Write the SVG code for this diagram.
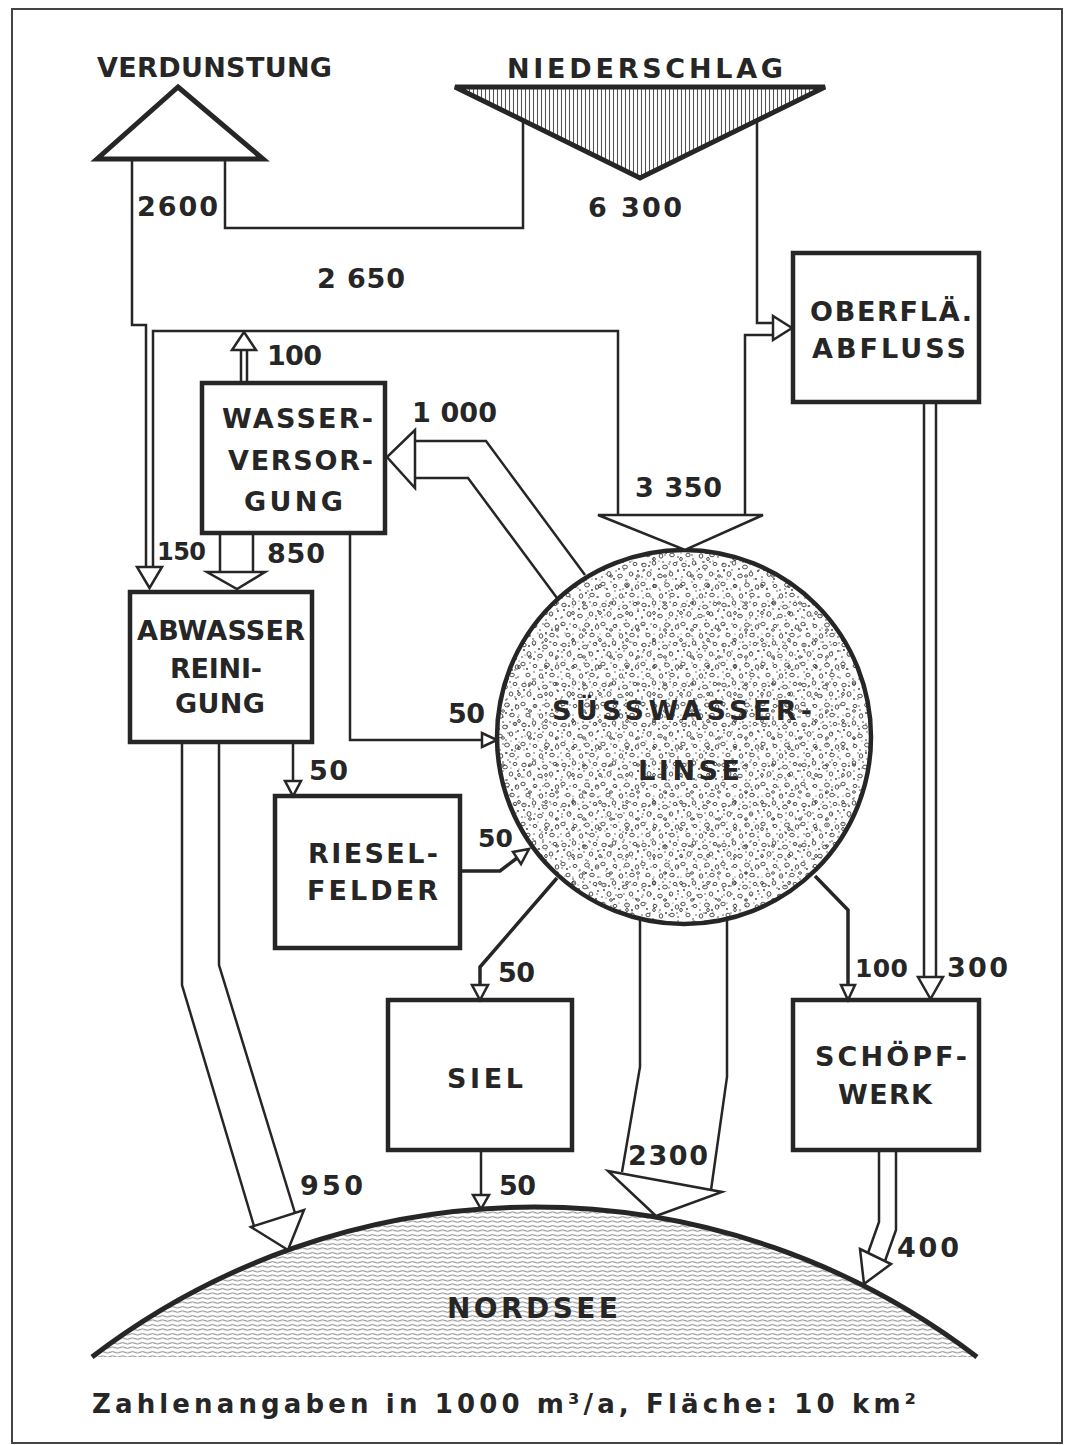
<svg xmlns="http://www.w3.org/2000/svg" width="1065" height="1445" viewBox="0 0 1065 1445">
<defs>
<style>
.t{font-family:"DejaVu Sans","Liberation Sans",Arial,sans-serif;font-weight:bold;font-size:27px;fill:#262626}
.box{fill:#fff;stroke:#262626;stroke-width:4.5}
.ln{fill:none;stroke:#262626;stroke-width:2.5;stroke-linejoin:miter}
.lnb{fill:none;stroke:#262626;stroke-width:3.5}
.ah{fill:#fff;stroke:#262626;stroke-width:2.5;stroke-linejoin:miter}
.sp{fill:none;stroke:#3a3a3a;stroke-width:0.9}
.dt{fill:#333}
</style>
<pattern id="hatch" width="4" height="10" patternUnits="userSpaceOnUse">
<rect width="4" height="10" fill="#fff"/>
<line x1="1.5" y1="0" x2="1.5" y2="10" stroke="#555" stroke-width="1.1"/>
</pattern>
<pattern id="wave" width="10" height="4.5" patternUnits="userSpaceOnUse">
<rect width="10" height="4.5" fill="#fff"/>
<path d="M0 2.2 Q2.5 0.8 5 2.2 T10 2.2" fill="none" stroke="#6a6a6a" stroke-width="0.9"/>
</pattern>
<pattern id="speckA" width="40" height="40" patternUnits="userSpaceOnUse">
<rect width="40" height="40" fill="#fff"/>
<ellipse class="sp" cx="4" cy="5" rx="2.2" ry="1.8"/>
<ellipse class="sp" cx="14" cy="3" rx="1.8" ry="2.2"/>
<ellipse class="sp" cx="25" cy="7" rx="2.4" ry="1.9"/>
<ellipse class="sp" cx="35" cy="4" rx="1.9" ry="1.6"/>
<ellipse class="sp" cx="9" cy="14" rx="2" ry="2.4"/>
<ellipse class="sp" cx="20" cy="16" rx="2.3" ry="1.8"/>
<ellipse class="sp" cx="31" cy="14" rx="1.8" ry="2.1"/>
<ellipse class="sp" cx="3" cy="24" rx="2.2" ry="1.8"/>
<ellipse class="sp" cx="15" cy="26" rx="1.9" ry="1.6"/>
<ellipse class="sp" cx="27" cy="25" rx="2.4" ry="2"/>
<ellipse class="sp" cx="37" cy="27" rx="1.8" ry="2.2"/>
<ellipse class="sp" cx="8" cy="35" rx="2.1" ry="1.8"/>
<ellipse class="sp" cx="21" cy="36" rx="1.8" ry="2.2"/>
<ellipse class="sp" cx="32" cy="35" rx="2.3" ry="1.8"/>
<circle class="dt" cx="9" cy="6" r="0.9"/>
<circle class="dt" cx="19" cy="9" r="0.9"/>
<circle class="dt" cx="30" cy="2" r="0.8"/>
<circle class="dt" cx="38" cy="11" r="0.9"/>
<circle class="dt" cx="2" cy="17" r="0.8"/>
<circle class="dt" cx="14" cy="19" r="0.9"/>
<circle class="dt" cx="26" cy="20" r="0.8"/>
<circle class="dt" cx="36" cy="19" r="0.9"/>
<circle class="dt" cx="7" cy="29" r="0.9"/>
<circle class="dt" cx="20" cy="30" r="0.8"/>
<circle class="dt" cx="32" cy="30" r="0.9"/>
<circle class="dt" cx="13" cy="39" r="0.8"/>
<circle class="dt" cx="26" cy="33" r="0.9"/>
<circle class="dt" cx="38" cy="37" r="0.8"/>
<circle class="dt" cx="4" cy="10" r="0.9"/>
<circle class="dt" cx="23" cy="2" r="0.8"/>
</pattern>
<pattern id="speckB" width="27" height="27" patternUnits="userSpaceOnUse">
<circle class="dt" cx="3" cy="3" r="0.7"/>
<circle class="dt" cx="12" cy="7" r="0.6"/>
<circle class="dt" cx="22" cy="4" r="0.7"/>
<circle class="dt" cx="6" cy="13" r="0.6"/>
<circle class="dt" cx="17" cy="15" r="0.7"/>
<circle class="dt" cx="25" cy="12" r="0.6"/>
<circle class="dt" cx="2" cy="22" r="0.7"/>
<circle class="dt" cx="11" cy="21" r="0.6"/>
<circle class="dt" cx="21" cy="24" r="0.7"/>
<ellipse class="sp" cx="17" cy="9" rx="1.5" ry="1.2"/>
<ellipse class="sp" cx="6" cy="19" rx="1.3" ry="1.6"/>
</pattern>
</defs>

<rect width="1065" height="1445" fill="#fff"/>
<rect id="frame" x="12" y="9" width="1050" height="1434" fill="none" stroke="#444" stroke-width="2"/>

<g id="node-verdunstung">
<polygon points="178,87 263,159 97,159" fill="#fff" stroke="#262626" stroke-width="5" stroke-linejoin="miter"/>
<text class="t" x="97" y="77" textLength="235" lengthAdjust="spacing">VERDUNSTUNG</text>
</g>

<g id="node-niederschlag">
<polygon points="455,87 825,87 640,178" fill="url(#hatch)" stroke="#262626" stroke-width="5" stroke-linejoin="miter"/>
<text class="t" x="507" y="78" textLength="276" lengthAdjust="spacing">NIEDERSCHLAG</text>
</g>

<g id="node-oberflaeche">
<rect class="box" x="793" y="253" width="186" height="149"/>
<text class="t" x="810" y="321" textLength="162" lengthAdjust="spacing">OBERFLÄ.</text>
<text class="t" x="812" y="358" textLength="154" lengthAdjust="spacing">ABFLUSS</text>
</g>

<g id="node-wasserversorgung">
<rect class="box" x="202" y="383" width="183" height="150"/>
<text class="t" x="222" y="428" textLength="151" lengthAdjust="spacing">WASSER-</text>
<text class="t" x="228" y="470" textLength="145" lengthAdjust="spacing">VERSOR-</text>
<text class="t" x="244" y="511" textLength="99" lengthAdjust="spacing">GUNG</text>
</g>

<g id="node-abwasser">
<rect class="box" x="130" y="592" width="182" height="150"/>
<text class="t" x="137" y="640" textLength="168" lengthAdjust="spacing">ABWASSER</text>
<text class="t" x="170" y="678" textLength="92" lengthAdjust="spacing">REINI-</text>
<text class="t" x="175" y="713" textLength="90" lengthAdjust="spacing">GUNG</text>
</g>

<g id="node-rieselfelder">
<rect class="box" x="275" y="796" width="185" height="152"/>
<text class="t" x="308" y="863" textLength="130" lengthAdjust="spacing">RIESEL-</text>
<text class="t" x="307" y="900" textLength="131" lengthAdjust="spacing">FELDER</text>
</g>

<g id="node-siel">
<rect class="box" x="388" y="1000" width="184" height="150"/>
<text class="t" x="447" y="1088" textLength="76" lengthAdjust="spacing">SIEL</text>
</g>

<g id="node-schoepfwerk">
<rect class="box" x="793" y="1000" width="186" height="150"/>
<text class="t" x="815" y="1066" textLength="152" lengthAdjust="spacing">SCHÖPF-</text>
<text class="t" x="838" y="1104" textLength="94" lengthAdjust="spacing">WERK</text>
</g>

<g id="node-suesswasserlinse">
<circle cx="684" cy="737" r="187" fill="url(#speckA)"/>
<circle cx="684" cy="737" r="187" fill="url(#speckB)" stroke="#262626" stroke-width="4.5"/>
<text class="t" x="552" y="720" textLength="260" lengthAdjust="spacing">SÜSSWASSER-</text>
<text class="t" x="638" y="780" textLength="102" lengthAdjust="spacing">LINSE</text>
</g>

<g id="node-nordsee">
<path d="M92 1357 A728 728 0 0 1 977 1357 Z" fill="url(#wave)"/>
<path d="M92 1357 A728 728 0 0 1 977 1357" fill="none" stroke="#262626" stroke-width="5"/>
<text class="t" x="447" y="1318" textLength="171" lengthAdjust="spacing" style="font-size:28px">NORDSEE</text>
</g>

<g id="connectors">
<path class="ln" d="M225 160 V228 H523 V121"/>
<path class="ln" d="M757 121 V323 H773"/>
<polygon class="ah" points="773,316 773,340 792,328"/>
<path class="ln" d="M773 335 H745 V515"/>
<path class="ln" d="M132 160 V325 H146 V567"/>
<path class="ln" d="M153 567 V331 H618 V515"/>
<polygon class="ah" points="137,567 162,567 149.5,588"/>
<polygon class="ah" points="598,515 763,515 685,550"/>
<path class="ln" d="M241 383 V350 M247 383 V350"/>
<polygon class="ah" points="232,350 256,350 244,332"/>
<path class="ln" d="M415 441 H486 L585 575"/>
<path class="ln" d="M415 478 H468 L557 598"/>
<polygon class="ah" points="415,430 415,488 387,457"/>
<path class="ln" d="M220 533 V572 M253 533 V572"/>
<polygon class="ah" points="207,572 265,572 237,589"/>
<path class="ln" d="M350 533 V740 H482"/>
<polygon class="ah" points="482,733 482,747 497,740"/>
<path class="ln" d="M293 742 V781"/>
<polygon class="ah" points="285,781 301,781 293,796"/>
<path class="lnb" d="M460 871 H500 L517 858"/>
<polygon class="ah" points="521,864 513,852 529,849"/>
<path class="lnb" d="M557 878 L480 967 V985"/>
<polygon class="ah" points="472,985 488,985 480,1000"/>
<path class="lnb" d="M815 876 L848 910 V985"/>
<polygon class="ah" points="841,985 855,985 848,1000"/>
<path class="ln" d="M924 402 V977 M936 402 V977"/>
<polygon class="ah" points="918,977 943,977 930.5,999"/>
<path class="ln" d="M182 742 V985 L254 1226"/>
<path class="ln" d="M219 742 V965 L295 1213"/>
<polygon class="ah" points="251,1227 304,1210 288,1250"/>
<path class="ln" d="M481 1150 V1195"/>
<polygon class="ah" points="473,1195 489,1195 481,1209"/>
<path class="ln" d="M640 919 V1067 L622 1172"/>
<path class="ln" d="M727 919 V1077 L711 1190"/>
<polygon class="ah" points="608,1171 722,1192 656,1216"/>
<path class="ln" d="M879 1150 V1222 L868 1253"/>
<path class="ln" d="M896 1150 V1230 L885 1261"/>
<polygon class="ah" points="860,1249 891,1264 864,1284"/>

<text class="t" x="588" y="217" textLength="94" lengthAdjust="spacing">6 300</text>
<text class="t" x="137" y="216" textLength="81" lengthAdjust="spacing">2600</text>
<text class="t" x="317" y="288" textLength="88" lengthAdjust="spacing">2 650</text>
<text class="t" x="267" y="365" textLength="55" lengthAdjust="spacing">100</text>
<text class="t" x="412" y="422" textLength="85" lengthAdjust="spacing">1 000</text>
<text class="t" x="635" y="497" textLength="87" lengthAdjust="spacing">3 350</text>
<text class="t" x="157" y="560" textLength="49" lengthAdjust="spacing" style="font-size:24px">150</text>
<text class="t" x="267" y="563" textLength="58" lengthAdjust="spacing">850</text>
<text class="t" x="448" y="723" textLength="37" lengthAdjust="spacing">50</text>
<text class="t" x="309" y="780" textLength="39" lengthAdjust="spacing">50</text>
<text class="t" x="478" y="847" textLength="35" lengthAdjust="spacing" style="font-size:25px">50</text>
<text class="t" x="498" y="982" textLength="37" lengthAdjust="spacing">50</text>
<text class="t" x="855" y="977" textLength="53" lengthAdjust="spacing" style="font-size:25px">100</text>
<text class="t" x="947" y="977" textLength="61" lengthAdjust="spacing">300</text>
<text class="t" x="628" y="1165" textLength="80" lengthAdjust="spacing">2300</text>
<text class="t" x="300" y="1195" textLength="63" lengthAdjust="spacing">950</text>
<text class="t" x="499" y="1195" textLength="37" lengthAdjust="spacing">50</text>
<text class="t" x="897" y="1257" textLength="62" lengthAdjust="spacing">400</text>
</g>

<text id="caption" class="t" x="92" y="1413" textLength="824" lengthAdjust="spacing" style="font-size:26px">Zahlenangaben in 1000 m³/a, Fläche: 10 km²</text>
</svg>
